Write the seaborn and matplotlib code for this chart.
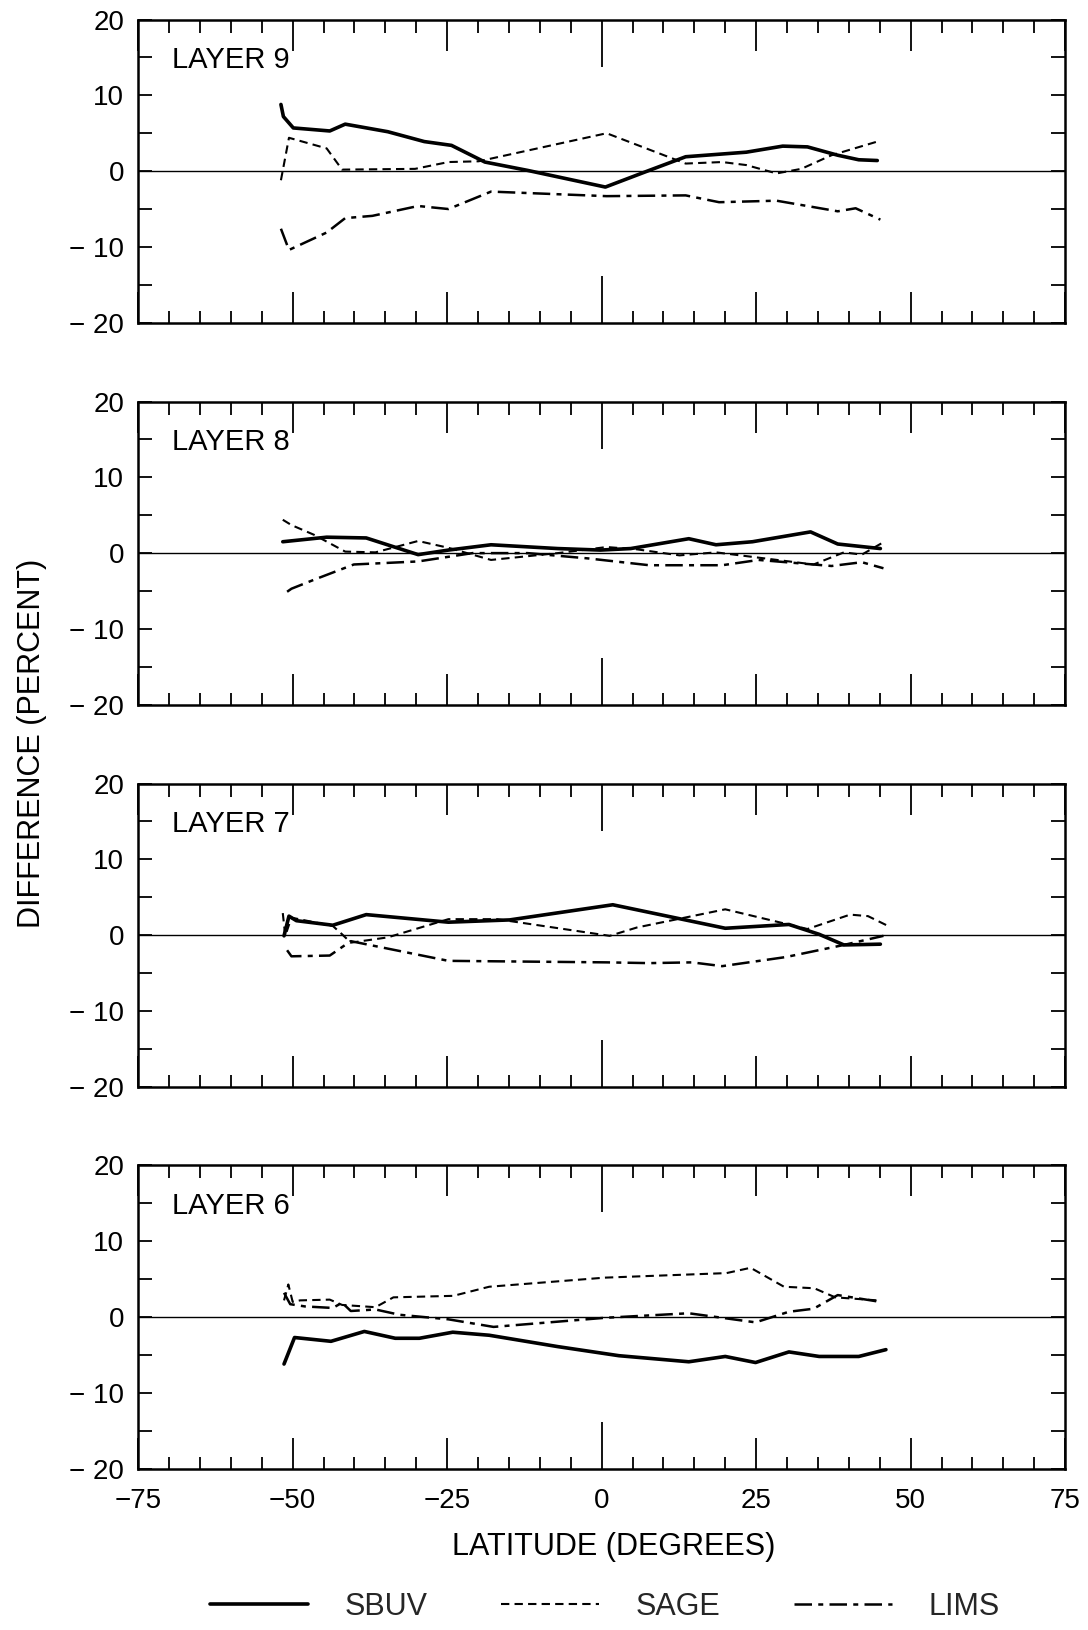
import numpy as np
import pandas as pd
import matplotlib
matplotlib.use("Agg")
import matplotlib.pyplot as plt
import seaborn as sns
from matplotlib.lines import Line2D
from matplotlib.ticker import MultipleLocator, FixedLocator

# Layer 9
l9_sbuv_lat = [-51.9, -51.5, -49.9, -44.0, -41.5, -34.6, -28.7, -24.3, -18.9, -12.0, 0.6, 7.7, 13.6, 23.4, 29.3, 33.3, 38.2, 41.6, 44.6]
l9_sbuv_val = [8.8, 7.2, 5.7, 5.3, 6.2, 5.2, 3.9, 3.4, 1.2, 0.1, -2.1, 0.1, 1.9, 2.5, 3.3, 3.2, 2.1, 1.5, 1.4]
l9_sage_lat = [-51.9, -50.6, -44.5, -42.0, -30.2, -24.8, -19.9, 0.8, 13.6, 19.5, 23.4, 28.3, 32.3, 37.2, 44.6]
l9_sage_val = [-1.2, 4.4, 3.0, 0.2, 0.3, 1.2, 1.3, 5.0, 1.0, 1.2, 0.8, -0.3, 0.3, 2.1, 3.9]
l9_lims_lat = [-51.9, -50.6, -44.5, -41.5, -37.1, -29.7, -24.8, -17.9, 0.8, 13.6, 19.0, 28.3, 38.2, 41.1, 45.1]
l9_lims_val = [-7.6, -10.4, -8.1, -6.2, -5.9, -4.6, -5.0, -2.7, -3.3, -3.2, -4.1, -3.9, -5.3, -4.9, -6.4]

# Layer 8
l8_sbuv_lat = [-51.6, -44.5, -38.1, -29.7, -24.8, -17.9, -7.1, -0.2, 4.7, 14.1, 18.5, 24.4, 33.8, 38.2, 45.1]
l8_sbuv_val = [1.5, 2.1, 2.0, -0.2, 0.4, 1.1, 0.6, 0.4, 0.6, 1.9, 1.1, 1.5, 2.8, 1.2, 0.6]
l8_sage_lat = [-51.6, -50.2, -46.5, -41.5, -36.6, -29.7, -24.8, -17.9, -7.1, 0.8, 5.7, 12.6, 18.5, 25.4, 34.3, 39.2, 42.1, 45.3]
l8_sage_val = [4.4, 3.7, 2.4, 0.2, 0.1, 1.6, 0.7, -0.9, 0.0, 0.8, 0.5, -0.3, 0.1, -0.6, -1.5, 0.1, -0.2, 1.3]
l8_lims_lat = [-50.9, -50.2, -46.5, -40.1, -29.7, -20.9, -12.0, -2.2, 7.7, 19.5, 25.4, 37.2, 42.1, 45.6]
l8_lims_val = [-5.1, -4.7, -3.5, -1.5, -1.1, 0.0, 0.0, -0.7, -1.6, -1.6, -0.9, -1.7, -1.2, -2.0]

# Layer 7
l7_sbuv_lat = [-51.4, -50.6, -49.4, -43.5, -38.1, -24.8, -14.9, 1.8, 20.0, 30.3, 35.2, 39.2, 45.1]
l7_sbuv_val = [-0.1, 2.5, 1.9, 1.3, 2.7, 1.7, 2.0, 4.0, 0.9, 1.4, 0.1, -1.3, -1.2]
l7_sage_lat = [-51.6, -51.2, -50.2, -43.5, -42.0, -40.6, -34.6, -24.8, -16.9, 1.3, 5.7, 20.0, 33.3, 40.2, 43.1, 46.1]
l7_sage_val = [2.9, -0.1, 2.3, 1.2, 0.1, -1.0, -0.3, 2.1, 2.1, -0.1, 1.0, 3.4, 0.8, 2.7, 2.5, 1.3]
l7_lims_lat = [-50.9, -50.2, -44.0, -40.6, -24.8, 0.8, 7.7, 14.6, 19.5, 29.8, 39.2, 45.6]
l7_lims_val = [-2.0, -2.8, -2.7, -0.8, -3.4, -3.6, -3.7, -3.6, -4.1, -2.9, -1.3, -0.1]

# Layer 6
l6_sbuv_lat = [-51.4, -49.7, -43.8, -38.4, -33.4, -29.5, -24.1, -18.2, -7.1, 2.8, 14.1, 20.0, 24.9, 30.3, 35.2, 41.6, 46.0]
l6_sbuv_val = [-6.2, -2.7, -3.2, -1.9, -2.8, -2.8, -2.0, -2.4, -3.9, -5.1, -5.9, -5.2, -6.0, -4.6, -5.2, -5.2, -4.3]
l6_sage_lat = [-51.4, -50.7, -50.0, -48.8, -44.0, -42.0, -36.6, -33.7, -24.0, -18.2, 0.5, 20.2, 24.1, 29.5, 34.4, 37.8, 44.6]
l6_sage_val = [2.2, 4.3, 2.0, 2.2, 2.3, 1.6, 1.3, 2.6, 2.8, 4.0, 5.2, 5.8, 6.5, 4.0, 3.8, 2.6, 2.2]
l6_lims_lat = [-51.4, -50.4, -48.0, -43.5, -42.0, -40.6, -36.6, -32.7, -24.8, -17.5, 0.5, 14.1, 24.9, 30.3, 34.3, 38.2, 45.1]
l6_lims_val = [3.2, 1.7, 1.4, 1.2, 1.9, 0.8, 1.0, 0.3, -0.3, -1.3, -0.1, 0.5, -0.7, 0.7, 1.1, 2.9, 2.0]

layers = ["LAYER 9", "LAYER 8", "LAYER 7", "LAYER 6"]
series = {
    "LAYER 9": {"SBUV": (l9_sbuv_lat, l9_sbuv_val), "SAGE": (l9_sage_lat, l9_sage_val), "LIMS": (l9_lims_lat, l9_lims_val)},
    "LAYER 8": {"SBUV": (l8_sbuv_lat, l8_sbuv_val), "SAGE": (l8_sage_lat, l8_sage_val), "LIMS": (l8_lims_lat, l8_lims_val)},
    "LAYER 7": {"SBUV": (l7_sbuv_lat, l7_sbuv_val), "SAGE": (l7_sage_lat, l7_sage_val), "LIMS": (l7_lims_lat, l7_lims_val)},
    "LAYER 6": {"SBUV": (l6_sbuv_lat, l6_sbuv_val), "SAGE": (l6_sage_lat, l6_sage_val), "LIMS": (l6_lims_lat, l6_lims_val)},
}

styles = {
    "SBUV": dict(lw=2.6, ls="-"),
    "SAGE": dict(lw=1.5, ls=(0, (4, 2.5))),
    "LIMS": dict(lw=1.8, ls=(0, (7, 2.5, 2, 2.5))),
}

sns.set_theme(style="ticks")
plt.rcParams["font.family"] = ["Liberation Sans", "DejaVu Sans"]
plt.rcParams["axes.unicode_minus"] = True

fig = plt.figure(figsize=(10.88, 16.30), dpi=100)
gs = fig.add_gridspec(4, 1, left=0.127, right=0.979, top=0.988, bottom=0.099, hspace=0.26)

yticks = [-20, -10, 0, 10, 20]
ylabels = ["\u2212 20", "\u2212 10", "0", "10", "20"]
xticks = [-75, -50, -25, 0, 25, 50, 75]
xlabels = ["\u221275", "\u221250", "\u221225", "0", "25", "50", "75"]

for i, layer in enumerate(layers):
    ax = fig.add_subplot(gs[i])
    for name, (lat, val) in series[layer].items():
        df = pd.DataFrame({"lat": lat, "val": val})
        sns.lineplot(data=df, x="lat", y="val", sort=False, estimator=None,
                     color="black", ax=ax, **styles[name])
    ax.axhline(0, color="black", lw=1.0)
    ax.set_xlim(-75, 75)
    ax.set_ylim(-20, 20)
    ax.set_xlabel("")
    ax.set_ylabel("")
    ax.xaxis.set_major_locator(FixedLocator(xticks))
    ax.xaxis.set_minor_locator(MultipleLocator(5))
    ax.yaxis.set_major_locator(FixedLocator(yticks))
    ax.yaxis.set_minor_locator(MultipleLocator(5))
    ax.set_yticklabels(ylabels)
    if i == 3:
        ax.set_xticklabels(xlabels)
    else:
        ax.set_xticklabels([])
    ax.tick_params(axis="both", which="both", direction="in", top=True, right=True,
                   color="black", width=1.3, labelsize=20, labelcolor="black")
    ax.tick_params(axis="x", which="major", length=22, pad=14)
    ax.tick_params(axis="x", which="minor", length=9)
    ax.tick_params(axis="y", which="both", length=10, pad=10)
    # the zero tick is drawn longer
    zt = ax.xaxis.get_major_ticks()[3]
    zt.tick1line.set_markersize(34)
    zt.tick2line.set_markersize(34)
    for s in ax.spines.values():
        s.set_linewidth(1.8)
        s.set_color("black")
    ax.text(0.037, 0.865, layer, transform=ax.transAxes, fontsize=21,
            va="center", ha="left", color="black")

fig.text(0.029, 0.544, "DIFFERENCE (PERCENT)", rotation=90, ha="center", va="center",
         fontsize=22, color="black")
fig.text(0.564, 0.051, "LATITUDE (DEGREES)", ha="center", va="center",
         fontsize=22, color="black")

handles = [Line2D([], [], color="black", **styles[n]) for n in ["SBUV", "SAGE", "LIMS"]]
fig.legend(handles, ["SBUV", "SAGE", "LIMS"], loc="center", bbox_to_anchor=(0.556, 0.014),
           ncol=3, frameon=False, fontsize=22, handlelength=3.2, handletextpad=1.2,
           columnspacing=2.4)

fig.savefig("out.png", dpi=100, facecolor="white")
